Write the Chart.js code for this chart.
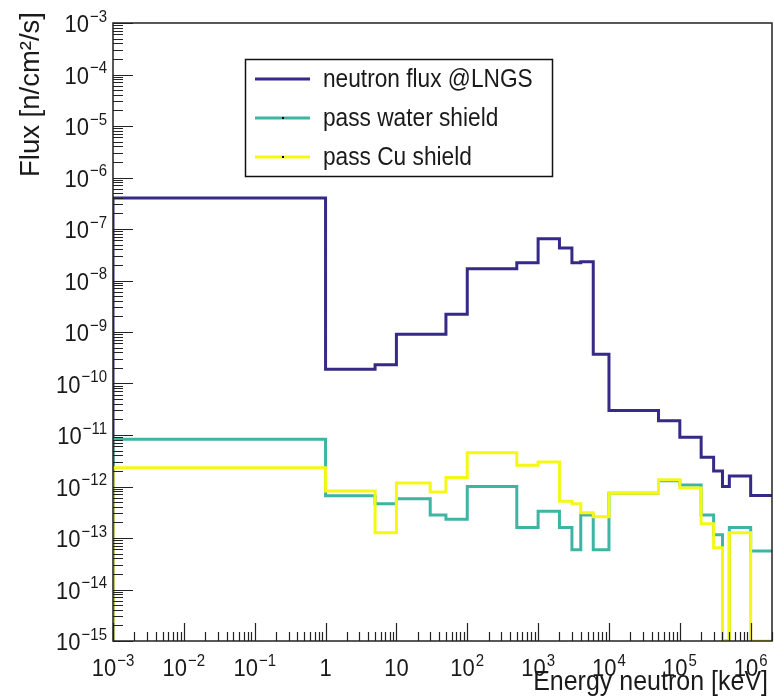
<!DOCTYPE html>
<html>
<head>
<meta charset="utf-8">
<script src="https://cdn.jsdelivr.net/npm/chart.js@4/dist/chart.umd.min.js"></script>
<style>
	html, body { margin: 0; padding: 0; background: #fff; }
	#wrap { width: 774px; height: 697px; position: relative; }
</style>
</head>
<body>
<div id="wrap"><canvas id="graphic"></canvas></div>
<script>
// bin edges in keV (21 bins)
const binEdges = [1e-3, 1, 5, 10, 30, 50, 100, 500, 1000, 2000, 3000, 4000, 6000, 1e4, 5e4, 1e5, 2e5, 3e5, 4e5, 5e5, 1e6, 2e6];

// flux per bin [n/cm2/s], 0 = empty bin
const fluxLNGS = [4.0e-7, 1.9e-10, 2.3e-10, 9.0e-10, 9.0e-10, 2.2e-9, 1.7e-8, 2.2e-8, 6.5e-8, 4.3e-8, 2.2e-8, 2.3e-8, 3.7e-10, 3.0e-11, 1.9e-11, 9.0e-12, 3.7e-12, 2.0e-12, 1.0e-12, 1.6e-12, 6.7e-13];
const fluxWater = [8.3e-12, 6.6e-13, 4.6e-13, 5.8e-13, 2.8e-13, 2.3e-13, 1.0e-12, 1.6e-13, 3.3e-13, 1.6e-13, 5.9e-14, 2.8e-13, 5.9e-14, 7.4e-13, 1.3e-12, 1.07e-12, 2.8e-13, 1.15e-13, 0, 1.6e-13, 5.6e-14];
const fluxCu = [2.3e-12, 8.2e-13, 1.26e-13, 1.17e-12, 7.8e-13, 1.5e-12, 4.5e-12, 2.6e-12, 3.0e-12, 5.2e-13, 4.6e-13, 3.1e-13, 2.6e-13, 7.4e-13, 1.35e-12, 9.3e-13, 1.9e-13, 6.5e-14, 0, 1.26e-13, 0];

const seriesNames = ['neutron flux @LNGS', 'pass water shield', 'pass Cu shield'];
const seriesColors = ['#352a87', '#3cb5a3', '#f5f814'];

const xRange = [1e-3, 2e6];
const yRange = [1e-15, 1e-3];
const xTickValues = [1e-3, 1e-2, 1e-1, 1, 10, 100, 1e3, 1e4, 1e5, 1e6];
const xTickLabels = ['10^−3', '10^−2', '10^−1', '1', '10', '10^2', '10^3', '10^4', '10^5', '10^6'];
const yTickValues = [1e-15, 1e-14, 1e-13, 1e-12, 1e-11, 1e-10, 1e-9, 1e-8, 1e-7, 1e-6, 1e-5, 1e-4, 1e-3];
const yTickLabels = ['10^−15', '10^−14', '10^−13', '10^−12', '10^−11', '10^−10', '10^−9', '10^−8', '10^−7', '10^−6', '10^−5', '10^−4', '10^−3'];
const xTitle = 'Energy neutron [keV]';
const yTitle = 'Flux [n/cm²/s]';

const FONT = '"Liberation Sans", Arial, Helvetica, sans-serif';
const STRETCH = 1.12; // text in the reference is a bit taller than wide

// histogram outline: start at the floor, one point per bin, close at last edge
function histPoints(values) {
	let pts = [{ x: binEdges[0], y: yRange[0] }];
	values.forEach((v, i) => {
		pts.push({ x: binEdges[i], y: Math.max(v, yRange[0]) });
	});
	pts.push({ x: binEdges[binEdges.length - 1], y: Math.max(values[values.length - 1], yRange[0]) });
	return pts;
}

function drawPow(ctx, label, x, baseY, align, baseSize, expSize, rise) {
	let parts = label.split('^');
	ctx.font = baseSize + 'px ' + FONT;
	let wb = ctx.measureText(parts[0]).width;
	let we = 0;
	if (parts[1]) {
		ctx.font = expSize + 'px ' + FONT;
		we = ctx.measureText(parts[1]).width + 1;
	}
	let total = wb + we;
	let x0 = align === 'center' ? x - total / 2 : x - total;
	ctx.save();
	ctx.translate(0, baseY);
	ctx.scale(1, STRETCH);
	ctx.textAlign = 'left';
	ctx.textBaseline = 'alphabetic';
	ctx.font = baseSize + 'px ' + FONT;
	ctx.fillText(parts[0], x0, 0);
	if (parts[1]) {
		ctx.font = expSize + 'px ' + FONT;
		ctx.fillText(parts[1], x0 + wb + 1, -rise);
	}
	ctx.restore();
}

const rootStyle = {
	id: 'rootStyle',
	afterDatasetsDraw(chart) {
		const ctx = chart.ctx;
		const a = chart.chartArea;
		const xs = chart.scales.x;
		const ys = chart.scales.y;
		ctx.save();
		ctx.strokeStyle = '#222';
		ctx.fillStyle = '#1a1a1a';

		// tick marks, inside the frame
		ctx.lineWidth = 1.2;
		ctx.beginPath();
		for (let d = -3; d <= 6; d++) {
			for (let m = 1; m <= 9; m++) {
				let v = m * Math.pow(10, d);
				if (v < xRange[0] || v > xRange[1]) continue;
				let px = Math.round(xs.getPixelForValue(v)) + 0.5;
				let len = m === 1 ? 18 : 9;
				ctx.moveTo(px, a.bottom);
				ctx.lineTo(px, a.bottom - len);
			}
		}
		for (let d = -15; d <= -3; d++) {
			for (let m = 1; m <= 9; m++) {
				let v = m * Math.pow(10, d);
				if (v < yRange[0] || v > yRange[1] * 1.0001) continue;
				let py = Math.round(ys.getPixelForValue(v)) + 0.5;
				let len = m === 1 ? 20 : 10;
				ctx.moveTo(a.left, py);
				ctx.lineTo(a.left + len, py);
			}
		}
		ctx.stroke();

		// frame
		ctx.lineWidth = 1.5;
		ctx.strokeRect(a.left, a.top, a.right - a.left, a.bottom - a.top);

		// tick labels
		xTickValues.forEach((v, i) => {
			drawPow(ctx, xTickLabels[i], xs.getPixelForValue(v), a.bottom + 35, 'center', 22, 15, 9);
		});
		yTickValues.forEach((v, i) => {
			drawPow(ctx, yTickLabels[i], a.left - 6, ys.getPixelForValue(v) + 9, 'right', 22, 15, 9);
		});

		// axis titles
		ctx.save();
		ctx.translate(768, 690);
		ctx.scale(1, STRETCH);
		ctx.font = '25px ' + FONT;
		ctx.textAlign = 'right';
		ctx.textBaseline = 'alphabetic';
		ctx.fillText(xTitle, 0, 0);
		ctx.restore();

		ctx.save();
		ctx.translate(39, 12);
		ctx.rotate(-Math.PI / 2);
		ctx.font = '27.5px ' + FONT;
		ctx.textAlign = 'right';
		ctx.fillText(yTitle, 0, 0);
		ctx.restore();

		// legend
		ctx.fillStyle = '#fff';
		ctx.fillRect(245, 59, 308, 118);
		ctx.lineWidth = 1.5;
		ctx.strokeStyle = '#111';
		ctx.strokeRect(245.5, 59.5, 307, 117);
		const rows = [79, 118, 157];
		seriesNames.forEach((name, i) => {
			ctx.strokeStyle = seriesColors[i];
			ctx.lineWidth = 3;
			ctx.beginPath();
			ctx.moveTo(255, rows[i]);
			ctx.lineTo(310, rows[i]);
			ctx.stroke();
			if (i > 0) {
				ctx.fillStyle = '#000';
				ctx.fillRect(282, rows[i] - 1, 2, 2);
			}
			ctx.save();
			ctx.translate(323, rows[i] + 1);
			ctx.scale(1, STRETCH);
			ctx.fillStyle = '#1a1a1a';
			ctx.font = '22.7px ' + FONT;
			ctx.textAlign = 'left';
			ctx.textBaseline = 'middle';
			ctx.fillText(name, 0, 0);
			ctx.restore();
		});
		ctx.restore();
	}
};

new Chart(document.getElementById('graphic'), {
	type: 'line',
	data: {
		datasets: [
			{ label: seriesNames[0], data: histPoints(fluxLNGS), borderColor: seriesColors[0], order: 2 },
			{ label: seriesNames[1], data: histPoints(fluxWater), borderColor: seriesColors[1], order: 1 },
			{ label: seriesNames[2], data: histPoints(fluxCu), borderColor: seriesColors[2], order: 0 },
		]
	},
	options: {
		responsive: true,
		maintainAspectRatio: false,
		animation: false,
		parsing: false,
		layout: { padding: { top: 23, right: 2, left: 0, bottom: 0 } },
		elements: {
			line: { stepped: true, borderWidth: 3, tension: 0, fill: false },
			point: { radius: 0, hoverRadius: 0 }
		},
		plugins: { legend: { display: false }, tooltip: { enabled: false } },
		scales: {
			x: {
				type: 'logarithmic', min: xRange[0], max: xRange[1],
				ticks: { display: false }, grid: { display: false }, border: { display: false },
				afterFit: s => { s.height = 56; }
			},
			y: {
				type: 'logarithmic', min: yRange[0], max: yRange[1],
				ticks: { display: false }, grid: { display: false }, border: { display: false },
				afterFit: s => { s.width = 113; }
			}
		}
	},
	plugins: [rootStyle]
});
</script>
</body>
</html>
